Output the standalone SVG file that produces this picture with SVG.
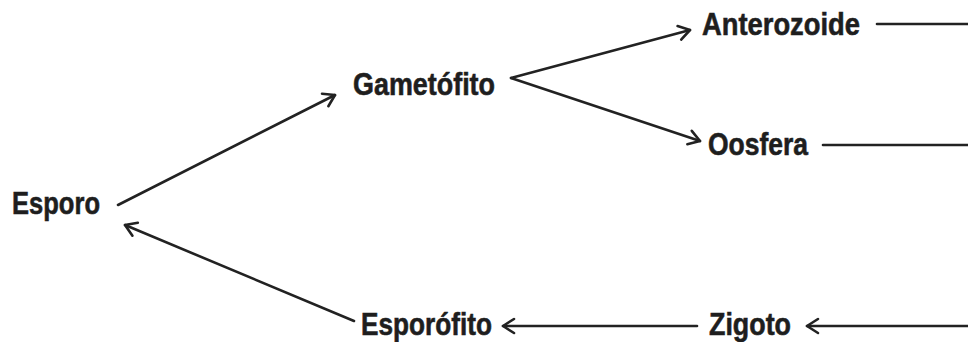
<svg xmlns="http://www.w3.org/2000/svg" width="968" height="342" viewBox="0 0 968 342">
  <style>
    .lbl { font-family: "Liberation Sans", Arial, sans-serif; font-weight: bold; font-size: 32px; fill: #1e1e1e; stroke: #1e1e1e; stroke-width: 0.6; }
    .edge { stroke: #222; stroke-width: 2.6; fill: none; stroke-linecap: round; }
    .arr { marker-end: url(#head); }
  </style>
  <defs>
    <marker id="head" markerUnits="userSpaceOnUse" viewBox="0 0 20 20" refX="14" refY="10" markerWidth="20" markerHeight="20" orient="auto">
      <path d="M3,3 L14,10 L3,17" fill="none" stroke="#222" stroke-width="2.6" stroke-linecap="round" stroke-linejoin="round"/>
    </marker>
  </defs>
  <rect width="968" height="342" fill="#fff"/>
  <g id="connectors">
    <line class="edge arr" x1="118" y1="205" x2="335" y2="95"/>
    <line class="edge arr" x1="511" y1="78" x2="690" y2="30"/>
    <line class="edge arr" x1="511" y1="78" x2="700" y2="141"/>
    <line class="edge" x1="877" y1="24" x2="968" y2="24"/>
    <line class="edge" x1="823" y1="145" x2="968" y2="145"/>
    <line class="edge arr" x1="968" y1="326" x2="807" y2="326"/>
    <line class="edge arr" x1="697" y1="326" x2="503" y2="326"/>
    <line class="edge arr" x1="354" y1="321" x2="125" y2="225"/>
  </g>
  <g id="esporo"><text class="lbl" x="12" y="214" textLength="88" lengthAdjust="spacingAndGlyphs">Esporo</text></g>
  <g id="gametofito"><text class="lbl" x="353" y="95" textLength="142" lengthAdjust="spacingAndGlyphs">Gametófito</text></g>
  <g id="anterozoide"><text class="lbl" x="702" y="35" textLength="158" lengthAdjust="spacingAndGlyphs">Anterozoide</text></g>
  <g id="oosfera"><text class="lbl" x="708" y="155" textLength="100" lengthAdjust="spacingAndGlyphs">Oosfera</text></g>
  <g id="esporofito"><text class="lbl" x="361" y="335" textLength="131" lengthAdjust="spacingAndGlyphs">Esporófito</text></g>
  <g id="zigoto"><text class="lbl" x="709" y="335" textLength="82" lengthAdjust="spacingAndGlyphs">Zigoto</text></g>
</svg>
